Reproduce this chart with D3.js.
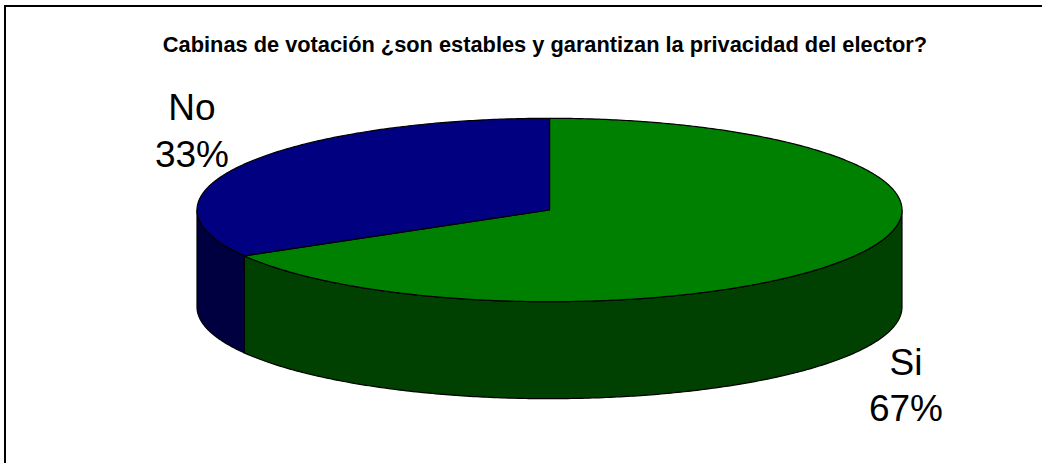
<!DOCTYPE html>
<html><head><meta charset="utf-8">
<script src="https://cdn.jsdelivr.net/npm/d3@7"></script>
<style>html,body{margin:0;padding:0;background:#fff;overflow:hidden}svg{display:block}text{font-family:"Liberation Sans",Arial,sans-serif;fill:#000}</style>
</head><body><svg id="c" width="1042" height="463"></svg>
<script>
const title = "Cabinas de votación ¿son estables y garantizan la privacidad del elector?";
const categories = ["Si", "No"];
const values = [66.67, 33.33];
const topColors = ["#008000", "#000080"];
const sideColors = ["#004000", "#000040"];

const W = 1042, H = 463;
const cx = 549.5, cy = 210, rx = 352.5, ry = 91.7, depth = 97;
const svg = d3.select("#c");

// only the top and left edges of the frame fall inside the picture
svg.append("path").attr("d", d3.line()([[5, H], [5, 6], [W, 6]]))
  .attr("fill", "none").attr("stroke", "#000").attr("stroke-width", 2);

svg.append("text").attr("x", 545).attr("y", 51.5).attr("text-anchor", "middle")
  .attr("font-size", 21.8).attr("font-weight", "bold").text(title);

const slices = d3.pie().value(d => d).sort(null)(values);
const px = a => cx + rx * Math.sin(a);
const py = a => cy - ry * Math.cos(a);
const line = d3.line();
const samples = (a0, a1) => {
  const n = Math.max(2, Math.ceil(Math.abs(a1 - a0) / 0.01));
  return d3.range(n + 1).map(i => a0 + (a1 - a0) * i / n);
};
const rim = (a0, a1, dy = 0) => samples(a0, a1).map(a => [px(a), py(a) + dy]);

const frontA = Math.PI / 2, frontB = 3 * Math.PI / 2;
const g = svg.append("g").attr("stroke", "#000").attr("stroke-width", 1.2).attr("stroke-linejoin", "round");
slices.forEach((s, i) => {
  const a0 = Math.max(s.startAngle, frontA), a1 = Math.min(s.endAngle, frontB);
  if (a1 <= a0) return;
  const pts = rim(a0, a1).concat(rim(a1, a0, depth));
  g.append("path").attr("d", line(pts) + "Z").attr("fill", sideColors[i]);
});
slices.forEach((s, i) => {
  const pts = [[cx, cy]].concat(rim(s.startAngle, s.endAngle));
  g.append("path").attr("d", line(pts) + "Z").attr("fill", topColors[i]);
});

const labelPos = [[906, 375, 421], [192, 120, 167]];
slices.forEach((s, i) => {
  const [x, y1, y2] = labelPos[i];
  const pct = Math.round((s.endAngle - s.startAngle) / (2 * Math.PI) * 100) + "%";
  const t = svg.append("text").attr("text-anchor", "middle").attr("font-size", 37);
  t.append("tspan").attr("x", x).attr("y", y1).text(categories[i]);
  t.append("tspan").attr("x", x).attr("y", y2).text(pct);
});
</script></body></html>
